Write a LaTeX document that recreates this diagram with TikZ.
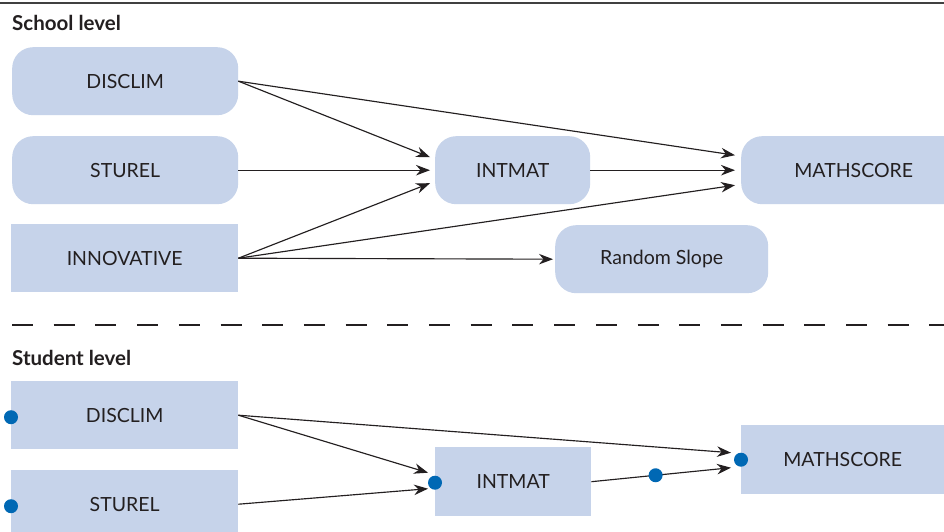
\documentclass[tikz,border=0pt]{standalone}
\usepackage{fontspec}
\setmainfont{Lato}
\usetikzlibrary{arrows.meta}
\definecolor{boxfill}{HTML}{C6D3EA}
\definecolor{ink}{HTML}{231F20}
\definecolor{dotblue}{HTML}{0068B4}
\tikzset{
  base/.style={fill=boxfill, inner sep=0pt, anchor=north west,
    text=ink, font=\fontsize{19.5}{21}\selectfont},
  sqbox/.style={base},
  rdbox/.style={base, rounded corners=21pt},
  arr/.style={draw=ink, line width=1.15pt, -{Stealth[length=14pt,width=10.5pt]}},
  dot/.style={circle, fill=dotblue, minimum size=14pt, inner sep=0pt},
  lvl/.style={anchor=base west, inner sep=0pt, text=ink,
    font=\fontsize{20.5}{22}\selectfont\bfseries}
}
\begin{document}
\begin{tikzpicture}[x=1pt,y=-1pt]
  \useasboundingbox (0,0) rectangle (944,532);
  \clip (0,0) rectangle (944,532);
  \fill[white] (0,0) rectangle (944,532);

  % rules
  \draw[line width=1.6pt, draw=black!75] (0,3) -- (944,3);
  \draw[line width=2.6pt, draw=ink, dash pattern=on 21pt off 20.7pt] (12,325) -- (944,325);

  % level headings
  \node[lvl] (school) at (12,31) {School level};
  \node[lvl] (student) at (12,365) {Student level};

  % school level
  \node[rdbox, minimum width=226pt, minimum height=68pt] (disc) at (12,47) {DISCLIM};
  \node[rdbox, minimum width=226pt, minimum height=68pt] (sturel) at (12,136) {STUREL};
  \node[sqbox, minimum width=227pt, minimum height=68pt] (innov) at (11,224) {INNOVATIVE};
  \node[rdbox, minimum width=155pt, minimum height=68pt] (intmat) at (435,136) {INTMAT};
  \node[rdbox, minimum width=225pt, minimum height=68pt, text width=203pt, align=center] (math) at (741,136) {MATHSCORE};
  \node[rdbox, minimum width=213pt, minimum height=68pt] (rand) at (555,225) {Random Slope};

  \draw[arr] (disc.east) -- ([xshift=-5pt,yshift=13pt]intmat.west);
  \draw[arr] (disc.east) -- ([xshift=-6pt,yshift=15pt]math.west);
  \draw[arr] (sturel.east) -- ([xshift=-5pt]intmat.west);
  \draw[arr] (innov.east) -- ([xshift=-5pt,yshift=-13pt]intmat.west);
  \draw[arr] (innov.east) -- ([xshift=-6pt,yshift=-15pt]math.west);
  \draw[arr] (innov.east) -- ([xshift=-2pt]rand.west);
  \draw[arr] (intmat.east) -- ([xshift=-6pt]math.west);

  % student level
  \node[sqbox, minimum width=227pt, minimum height=68pt] (bdisc) at (11,381) {DISCLIM};
  \node[sqbox, minimum width=227pt, minimum height=68pt] (bsturel) at (11,470) {STUREL};
  \node[sqbox, minimum width=156pt, minimum height=69pt] (bintmat) at (435,447) {INTMAT};
  \node[sqbox, minimum width=203pt, minimum height=69pt] (bmath) at (741,425) {MATHSCORE};

  \draw[arr] (bdisc.east) -- ([xshift=-7pt,yshift=9pt]bintmat.west);
  \draw[arr] (bdisc.east) -- ([xshift=-10pt,yshift=7pt]bmath.west);
  \draw[arr] (bsturel.east) -- ([xshift=-7pt,yshift=-7pt]bintmat.west);
  \draw[arr] (bintmat.east) -- node[dot, pos=0.46] (mid) {} ([xshift=-10pt,yshift=-8pt]bmath.west);

  \node[dot] (dd) at ([yshift=-2pt]bdisc.west) {};
  \node[dot] (ds) at ([yshift=-2pt]bsturel.west) {};
  \node[dot] (di) at ([yshift=-1pt]bintmat.west) {};
  \node[dot] (dm) at (bmath.west) {};
\end{tikzpicture}
\end{document}
